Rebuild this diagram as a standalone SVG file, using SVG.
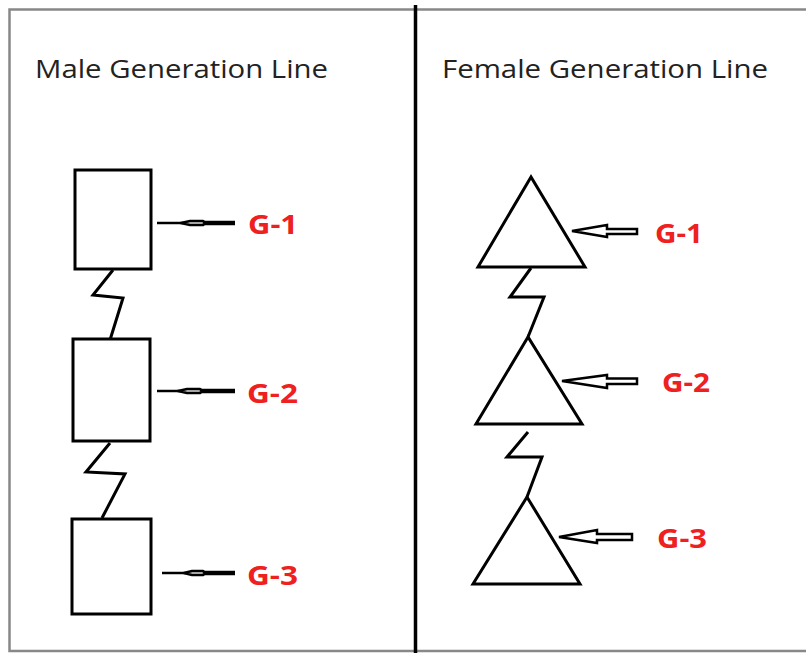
<svg xmlns="http://www.w3.org/2000/svg" width="806" height="653" viewBox="0 0 806 653">
<style>
.shape{fill:#fff;stroke:#000;stroke-width:3;stroke-linejoin:miter}
.zig{fill:none;stroke:#000;stroke-width:3;stroke-linejoin:miter}
.arr{fill:#fff;stroke:#000;stroke-width:2.5;stroke-linejoin:miter}
.marr{fill:#ddd;stroke:#000;stroke-width:2.5;stroke-linejoin:round}
.shaft{stroke:#000;stroke-linecap:butt}
.title{font-family:"Open Sans","Noto Sans",sans-serif;font-size:25px;fill:#222}
.lbl{font-family:"Open Sans","Noto Sans",sans-serif;font-size:27px;font-weight:bold;fill:#ee2020}
</style>
<rect x="0" y="0" width="806" height="653" fill="#fff"/>
<g id="frame">
<path d="M810,9.5 H9.5 V651 H810" fill="none" stroke="#888" stroke-width="2.5"/>
<line x1="415.5" y1="5" x2="415.5" y2="653" stroke="#000" stroke-width="3.5"/>
</g>
<g id="titles">
<text class="title" x="35" y="78" textLength="293" lengthAdjust="spacingAndGlyphs">Male Generation Line</text>
<text class="title" x="442" y="78" textLength="326" lengthAdjust="spacingAndGlyphs">Female Generation Line</text>
</g>
<g id="connectors">
<polyline class="zig" points="113,270 93,295 123,298 110,340"/>
<polyline class="zig" points="110,443 86,472 125,474 102,518"/>
<polyline class="zig" points="531,268 510,297 544,297 528,337"/>
<polyline class="zig" points="528,432 507,457 542,457 527,497"/>
</g>
<g id="male-g1">
<rect class="shape" x="75" y="170" width="76" height="99"/>
<line class="shaft" x1="157" y1="223" x2="184" y2="223" stroke-width="2.5"/>
<line class="shaft" x1="203" y1="223" x2="235" y2="223" stroke-width="4.5"/>
<polygon class="marr" points="181,223 190,221 203,221 205,223 203,225 190,225"/>
<text class="lbl" x="248" y="234" textLength="50" lengthAdjust="spacingAndGlyphs">G-1</text>
</g>
<g id="male-g2">
<rect class="shape" x="73" y="339" width="77" height="102"/>
<line class="shaft" x1="157" y1="391" x2="180" y2="391" stroke-width="2.5"/>
<line class="shaft" x1="200" y1="391" x2="235" y2="391" stroke-width="4.5"/>
<polygon class="marr" points="178,391 187,389 200,389 202,391 200,393 187,393"/>
<text class="lbl" x="247" y="403" textLength="51" lengthAdjust="spacingAndGlyphs">G-2</text>
</g>
<g id="male-g3">
<rect class="shape" x="72" y="519" width="79" height="95"/>
<line class="shaft" x1="162" y1="573" x2="186" y2="573" stroke-width="2.5"/>
<line class="shaft" x1="203" y1="573" x2="235" y2="573" stroke-width="4.5"/>
<polygon class="marr" points="184,573 192,571 203,571 205,573 203,575 192,575"/>
<text class="lbl" x="247" y="585" textLength="51" lengthAdjust="spacingAndGlyphs">G-3</text>
</g>
<g id="female-g1">
<polygon class="shape" points="531,177 478,267 585,267"/>
<polygon class="arr" points="572,231 607,225 607,229 637,229 637,234 607,234 607,237"/>
<text class="lbl" x="655" y="243" textLength="48" lengthAdjust="spacingAndGlyphs">G-1</text>
</g>
<g id="female-g2">
<polygon class="shape" points="528,337 476,424 582,424"/>
<polygon class="arr" points="562,381 607,375 607,378.5 637,378.5 637,384 607,384 607,388"/>
<text class="lbl" x="662" y="392" textLength="48" lengthAdjust="spacingAndGlyphs">G-2</text>
</g>
<g id="female-g3">
<polygon class="shape" points="527,497 473,584 580,584"/>
<polygon class="arr" points="559,537 597,530 597,534 632,534 632,540 597,540 597,543"/>
<text class="lbl" x="657" y="548" textLength="50" lengthAdjust="spacingAndGlyphs">G-3</text>
</g>
</svg>
